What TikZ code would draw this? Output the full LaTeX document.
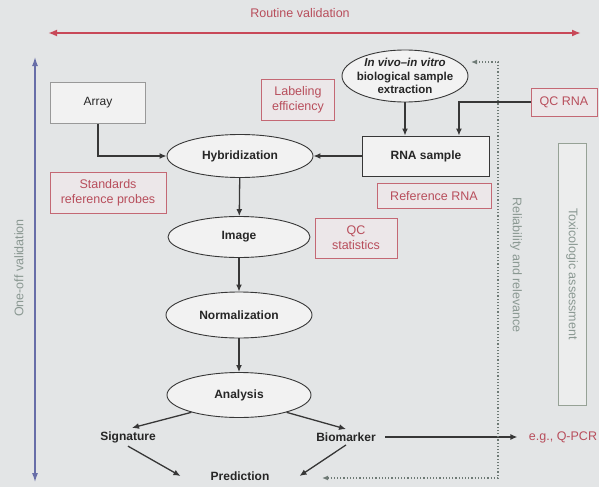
\documentclass[tikz,border=0pt]{standalone}
\usepackage{fontspec}
\setmainfont{Liberation Sans}
\usetikzlibrary{arrows.meta,positioning,shapes.geometric}

\definecolor{bgcol}{RGB}{227,229,230}
\definecolor{redline}{RGB}{200,72,88}
\definecolor{redtext}{RGB}{184,78,92}
\definecolor{redborder}{RGB}{196,104,116}
\definecolor{bluearr}{RGB}{104,110,168}
\definecolor{graytext}{RGB}{138,152,146}
\definecolor{grayborder}{RGB}{150,162,150}
\definecolor{darkline}{RGB}{55,55,55}
\definecolor{boxfill}{RGB}{242,242,242}
\definecolor{redfill}{RGB}{236,231,233}

\begin{document}
\begin{tikzpicture}[x=1pt,y=-1pt,
    flow/.style={-{Latex[length=7pt,width=6pt]},draw=darkline,line width=1.3pt},
    ell/.style={ellipse,draw=darkline,fill=boxfill,line width=0.9pt,inner sep=0pt},
    box/.style={rectangle,draw=darkline,fill=boxfill,line width=0.9pt},
    redbox/.style={rectangle,draw=redborder,fill=redfill,line width=1pt,text=redtext,
      align=center,font=\fontsize{12.5}{15}\selectfont},
    lbl/.style={font=\bfseries\fontsize{12}{14}\selectfont,text=black!85,align=center},
    note/.style={text=graytext,font=\fontsize{12.5}{14}\selectfont}]

      % background
      \fill[bgcol] (0,0) rectangle (599,487);
      \useasboundingbox (0,0) rectangle (599,487);

      % routine validation
      \node[text=redtext,font=\fontsize{12.5}{14}\selectfont] (routine) at (300,13) {Routine validation};
      \coordinate (rleft) at (48,33);
      \coordinate (rright) at (581,33);
      \draw[{Latex[length=9pt,width=7pt]}-{Latex[length=9pt,width=7pt]},redline,line width=2pt] (rleft) -- (rright);

      % one-off validation
      \coordinate (otop) at (35,57);
      \coordinate (obot) at (35,482);
      \draw[{Latex[length=9pt,width=6pt]}-{Latex[length=9pt,width=6pt]},bluearr,line width=1.2pt] (otop) -- (obot);
      \node[note,rotate=90] (oneoff) at (19,268) {One-off validation};

      % left column
      \node[box,draw=gray!80,minimum width=95,minimum height=41,lbl,font=\fontsize{12}{14}\selectfont] (array) at (98,103) {Array};
      \node[redbox,minimum width=73,minimum height=41] (labeling) at (298,100) {Labeling\\efficiency};
      \node[redbox,minimum width=116,minimum height=41] (standards) at (108,193) {Standards\\reference probes};
      \node[redbox,minimum width=82,minimum height=40] (qcstat) at (356,238) {QC\\statistics};

      % main chain
      \node[ell,minimum width=146,minimum height=43,lbl] (hyb) at (240,156) {Hybridization};
      \node[ell,minimum width=142,minimum height=41,lbl] (image) at (239,237) {Image};
      \node[ell,minimum width=146,minimum height=46,lbl] (norm) at (239,315) {Normalization};
      \node[ell,minimum width=144,minimum height=45,lbl] (analysis) at (239,395) {Analysis};

      % sample side
      \node[ell,minimum width=126,minimum height=52] (invivo) at (405,76) {};
      \node[lbl,font=\bfseries\fontsize{11.5}{13.5}\selectfont] (invivotxt) at (invivo) {\textit{In vivo--in vitro}\\biological sample\\extraction};
      \node[box,minimum width=127,minimum height=40,lbl] (rna) at (426,156) {RNA sample};
      \node[redbox,minimum width=114,minimum height=25] (refrna) at (434,196) {Reference RNA};
      \node[redbox,minimum width=66,minimum height=28] (qcrna) at (564,102) {QC RNA};

      % outputs
      \node[lbl] (signature) at (128,437) {Signature};
      \node[lbl] (biomarker) at (346,437) {Biomarker};
      \node[lbl,inner xsep=30pt] (prediction) at (240,476) {Prediction};
      \node[text=redtext,font=\fontsize{12.5}{14}\selectfont] (qpcr) at (563,437) {e.g., Q-PCR};

      % toxicologic assessment
      \node[draw=grayborder,fill=boxfill!60!bgcol,line width=1pt,rotate=-90,minimum width=262,minimum height=28,
        note] (toxic) at (572,274) {Toxicologic assessment};
      \node[note,rotate=-90] (relevance) at (516,265) {Reliability and relevance};

      % connectors
      \draw[flow] (array.south) |- (hyb.west);
      \draw[flow] (invivo.south) -- (invivo.south |- rna.north);
      \draw[flow] (qcrna.west) -| ([xshift=-31pt]rna.north east);
      \draw[flow] (rna.west) -- (hyb.east);
      \draw[flow] (hyb) -- (image);
      \draw[flow] (image) -- (norm);
      \draw[flow] (norm) -- (analysis);
      \draw[flow] (analysis.200) -- ([xshift=4pt]signature.north);
      \draw[flow] (analysis.340) -- (biomarker.north);
      \draw[flow] (signature.south) -- (prediction.west);
      \draw[flow] (biomarker.south) -- (prediction.east);
      \draw[flow,line width=2pt,shorten <=6pt,shorten >=8pt] (biomarker.east) -- (qpcr.west);

      % reliability loop
      \coordinate (dotb) at (322,478);
      \coordinate (dotc) at (498,478);
      \coordinate (dotd) at (498,62);
      \coordinate (dote) at (471,62);
      \draw[{Latex[length=6pt,width=5pt]}-{Latex[length=6pt,width=5pt]},draw=gray!80!black,dotted,line width=1.2pt,
        color=graytext!80!black] (dotb) -- (dotc) -- (dotd) -- (dote);
    \end{tikzpicture}
\end{document}
